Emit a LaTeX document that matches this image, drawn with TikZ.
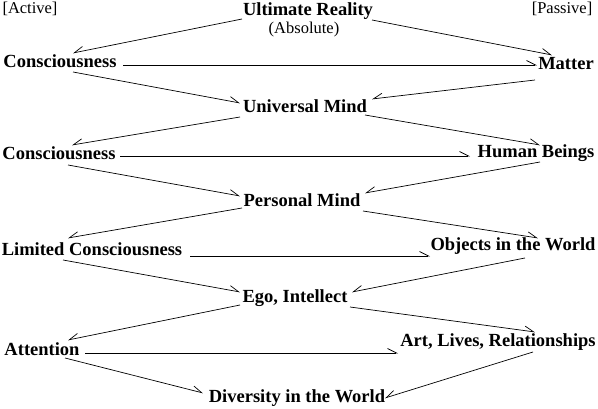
\documentclass[tikz,border=0pt]{standalone}
\usepackage{fontspec}
\setmainfont{Liberation Serif}
\usetikzlibrary{arrows.meta}
\begin{document}
\begin{tikzpicture}[x=1pt,y=-1pt,
  lbl/.style={inner sep=0pt,font=\fontsize{18.5}{20}\selectfont\bfseries},
  note/.style={inner sep=0pt,font=\fontsize{16.5}{18}\selectfont},
  conn/.style={line width=0.7pt},
  arR/.style={conn,-{Straight Barb[harpoon,length=9pt,width=9pt,line width=0.7pt]}},
  arL/.style={conn,-{Straight Barb[harpoon,swap,length=9pt,width=9pt,line width=0.7pt]}}]
\useasboundingbox (0,0) rectangle (598,409);
\node[note] (active) at (30,9) {[Active]};
\node[note] (passive) at (562,9) {[Passive]};
\node[lbl] (ult) at (308,11) {Ultimate Reality};
\node[note] (abs) at (304,30) {(Absolute)};
\node[lbl] (cons1) at (60,61) {Consciousness};
\node[lbl] (matter) at (566,64) {Matter};
\node[lbl] (umind) at (305,106) {Universal Mind};
\node[lbl] (cons2) at (59,153) {Consciousness};
\node[lbl] (human) at (536,153) {Human Beings};
\node[lbl] (pmind) at (302,200) {Personal Mind};
\node[lbl] (limc) at (92,249) {Limited Consciousness};
\node[lbl] (objects) at (513,246) {Objects in the World};
\node[lbl] (ego) at (295,298) {Ego, Intellect};
\node[lbl] (attn) at (42,349) {Attention};
\node[lbl] (art) at (498,342) {Art, Lives, Relationships};
\node[lbl] (div) at (297,398) {Diversity in the World};
% arrows
\draw[arL] ([shift={(-66,8)}]ult.center) -- ([shift={(13,-8)}]cons1.center);
\draw[arR] ([shift={(64,9)}]ult.center) -- ([shift={(-14,-9)}]matter.center);
\draw[arR] ([shift={(63,4)}]cons1.center) -- ([shift={(-29,1)}]matter.center);
\draw[arR] ([shift={(13,11)}]cons1.center) -- ([shift={(-65,-3)}]umind.center);
\draw[arL] ([shift={(-31,16)}]matter.center) -- ([shift={(67,-7)}]umind.center);
\draw[arL] ([shift={(-65,11)}]umind.center) -- ([shift={(13,-8)}]cons2.center);
\draw[arR] ([shift={(60,9)}]umind.center) -- ([shift={(4,-8)}]human.center);
\draw[arR] ([shift={(61,3)}]cons2.center) -- ([shift={(-66,3)}]human.center);
\draw[arR] ([shift={(9,12)}]cons2.center) -- ([shift={(-62,-4)}]pmind.center);
\draw[arL] ([shift={(4,9)}]human.center) -- ([shift={(63,-7)}]pmind.center);
\draw[arL] ([shift={(-60,8)}]pmind.center) -- ([shift={(-24,-11)}]limc.center);
\draw[arR] ([shift={(61,11)}]pmind.center) -- ([shift={(25,-8)}]objects.center);
\draw[arR] ([shift={(98,7)}]limc.center) -- ([shift={(-83,10)}]objects.center);
\draw[arR] ([shift={(-29,11)}]limc.center) -- ([shift={(-55,-6)}]ego.center);
\draw[arL] ([shift={(12,12)}]objects.center) -- ([shift={(57,-6)}]ego.center);
\draw[arL] ([shift={(-55,7)}]ego.center) -- ([shift={(26,-9)}]attn.center);
\draw[arR] ([shift={(55,9)}]ego.center) -- ([shift={(37,-10)}]art.center);
\draw[arR] ([shift={(43,4)}]attn.center) -- ([shift={(-100,11)}]art.center);
\draw[arR] ([shift={(23,9)}]attn.center) -- ([shift={(-94,-5)}]div.center);
\draw[arL] ([shift={(35,10)}]art.center) -- ([shift={(88,0)}]div.center);
\end{tikzpicture}
\end{document}
